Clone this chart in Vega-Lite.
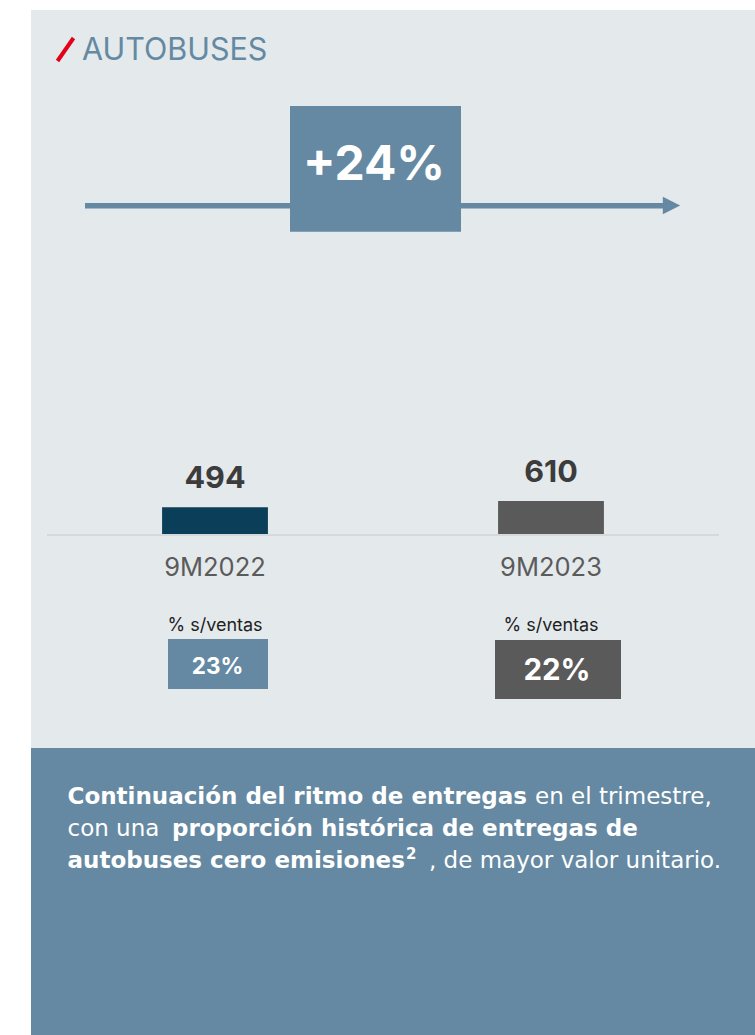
{
  "$schema": "https://vega.github.io/schema/vega-lite/v6.json",
  "width": 755,
  "height": 1035,
  "autosize": {"type": "fit", "contains": "padding"},
  "padding": 0,
  "background": "#ffffff",
  "config": {"view": {"stroke": null}, "text": {"font": "Inter"}},
  "datasets": {
    "periods": [
      {"period": "9M2022", "value": 494, "pct": "23%"},
      {"period": "9M2023", "value": 610, "pct": "22%"}
    ]
  },
  "layer": [
    {
      "data": {"values": [{}]},
      "layer": [
        {
          "mark": {"type": "rect", "color": "#e4e9ec"},
          "encoding": {
            "x": {"datum": 31, "type": "quantitative", "axis": null, "scale": {"domain": [0, 755], "nice": false, "zero": false}},
            "x2": {"datum": 755},
            "y": {"datum": 10, "type": "quantitative", "axis": null, "scale": {"domain": [0, 1035], "reverse": true, "nice": false, "zero": false}},
            "y2": {"datum": 748}
          }
        },
        {
          "mark": {"type": "rect", "color": "#6589a2"},
          "encoding": {"x": {"datum": 31}, "x2": {"datum": 755}, "y": {"datum": 748}, "y2": {"datum": 1035}}
        },
        {
          "mark": {"type": "rule", "color": "#e2001a", "strokeWidth": 4},
          "encoding": {"x": {"datum": 57.5}, "x2": {"datum": 73.5}, "y": {"datum": 61}, "y2": {"datum": 38}}
        },
        {
          "mark": {"type": "text", "text": "AUTOBUSES", "align": "left", "baseline": "alphabetic", "fontSize": 30.5, "color": "#6589a2", "fontWeight": 400},
          "encoding": {"x": {"datum": 82}, "y": {"datum": 60}}
        },
        {
          "mark": {"type": "rule", "color": "#6589a2", "strokeWidth": 5.5},
          "encoding": {"x": {"datum": 85}, "x2": {"datum": 666}, "y": {"datum": 205.8}}
        },
        {
          "mark": {"type": "point", "shape": "M-1,-1L1,0L-1,1Z", "filled": true, "color": "#6589a2", "size": 300, "opacity": 1},
          "encoding": {"x": {"datum": 671.5}, "y": {"datum": 205.5}}
        },
        {
          "mark": {"type": "rect", "color": "#6589a2"},
          "encoding": {"x": {"datum": 290}, "x2": {"datum": 461}, "y": {"datum": 106}, "y2": {"datum": 231.7}}
        },
        {
          "mark": {"type": "text", "text": "+24%", "align": "center", "baseline": "alphabetic", "fontSize": 48, "fontWeight": "bold", "color": "#ffffff"},
          "encoding": {"x": {"datum": 374}, "y": {"datum": 180}}
        },
        {
          "mark": {"type": "rule", "color": "#d6d9dc", "strokeWidth": 2},
          "encoding": {"x": {"datum": 47}, "x2": {"datum": 719}, "y": {"datum": 535}}
        },
        {
          "mark": {"type": "text", "text": "Continuación del ritmo de entregas", "align": "left", "baseline": "alphabetic", "font": "DejaVu Sans", "fontSize": 23, "fontWeight": "bold", "color": "#ffffff"},
          "encoding": {"x": {"datum": 67.5}, "y": {"datum": 804}}
        },
        {
          "mark": {"type": "text", "text": "en el trimestre,", "align": "left", "baseline": "alphabetic", "font": "DejaVu Sans", "fontSize": 23, "fontWeight": 400, "color": "#ffffff"},
          "encoding": {"x": {"datum": 535}, "y": {"datum": 804}}
        },
        {
          "mark": {"type": "text", "text": "con una", "align": "left", "baseline": "alphabetic", "font": "DejaVu Sans", "fontSize": 23, "fontWeight": 400, "color": "#ffffff"},
          "encoding": {"x": {"datum": 67.5}, "y": {"datum": 836}}
        },
        {
          "mark": {"type": "text", "text": "proporción histórica de entregas de", "align": "left", "baseline": "alphabetic", "font": "DejaVu Sans", "fontSize": 23, "fontWeight": "bold", "color": "#ffffff"},
          "encoding": {"x": {"datum": 172}, "y": {"datum": 836}}
        },
        {
          "mark": {"type": "text", "text": "autobuses cero emisiones", "align": "left", "baseline": "alphabetic", "font": "DejaVu Sans", "fontSize": 23, "fontWeight": "bold", "color": "#ffffff"},
          "encoding": {"x": {"datum": 67.5}, "y": {"datum": 867.5}}
        },
        {
          "mark": {"type": "text", "text": "2", "align": "left", "baseline": "alphabetic", "font": "DejaVu Sans", "fontSize": 15, "fontWeight": "bold", "color": "#ffffff"},
          "encoding": {"x": {"datum": 406}, "y": {"datum": 859}}
        },
        {
          "mark": {"type": "text", "text": ", de mayor valor unitario.", "align": "left", "baseline": "alphabetic", "font": "DejaVu Sans", "fontSize": 23, "fontWeight": 400, "color": "#ffffff"},
          "encoding": {"x": {"datum": 429}, "y": {"datum": 867.5}}
        }
      ]
    },
    {
      "data": {"name": "periods"},
      "encoding": {
        "x": {"field": "period", "type": "nominal", "axis": null,
          "scale": {"type": "band", "domain": ["9M2022", "9M2023"], "range": [47, 719], "paddingInner": 0.685, "paddingOuter": 0.3425}}
      },
      "layer": [
        {
          "mark": {"type": "bar"},
          "encoding": {
            "y": {"field": "value", "type": "quantitative", "axis": null, "scale": {"domain": [0, 1000], "range": [534, 480], "nice": false}},
            "y2": {"datum": 0},
            "color": {"field": "period", "type": "nominal", "legend": null, "scale": {"range": ["#0b3f59", "#5a5a5a"]}}
          }
        },
        {
          "mark": {"type": "text", "baseline": "alphabetic", "dy": -19.5, "fontSize": 30.5, "fontWeight": "bold", "color": "#3c3c3c"},
          "encoding": {"y": {"field": "value", "type": "quantitative"}, "text": {"field": "value", "type": "quantitative"}}
        },
        {
          "mark": {"type": "text", "baseline": "alphabetic", "dy": 42, "fontSize": 25.5, "fontWeight": 400, "color": "#5b5b5b"},
          "encoding": {"y": {"datum": 0}, "text": {"field": "period"}}
        },
        {
          "mark": {"type": "text", "baseline": "alphabetic", "dy": 97, "fontSize": 18, "fontWeight": 400, "color": "#1e1e1e", "text": "% s/ventas"},
          "encoding": {"y": {"datum": 0}}
        }
      ]
    },
    {
      "data": {"name": "periods"},
      "encoding": {
        "x": {"field": "period", "type": "nominal", "axis": null,
          "scale": {"type": "band", "domain": ["9M2022", "9M2023"], "range": [52, 724], "paddingInner": 0.685, "paddingOuter": 0.3425}}
      },
      "layer": [
        {
          "transform": [{"filter": "datum.period === '9M2022'"}],
          "mark": {"type": "bar", "width": 100, "color": "#6589a2", "xOffset": -2},
          "encoding": {
            "y": {"datum": 639, "type": "quantitative", "axis": null, "scale": {"domain": [0, 1035], "reverse": true, "nice": false, "zero": false}},
            "y2": {"datum": 689}
          }
        },
        {
          "transform": [{"filter": "datum.period === '9M2023'"}],
          "mark": {"type": "bar", "width": 126, "color": "#5a5a5a", "xOffset": 2},
          "encoding": {"y": {"datum": 640}, "y2": {"datum": 699}}
        },
        {
          "transform": [{"filter": "datum.period === '9M2022'"}],
          "mark": {"type": "text", "baseline": "alphabetic", "fontSize": 22.5, "fontWeight": "bold", "color": "#ffffff", "xOffset": -2.5},
          "encoding": {"y": {"datum": 673.5}, "text": {"field": "pct"}}
        },
        {
          "transform": [{"filter": "datum.period === '9M2023'"}],
          "mark": {"type": "text", "baseline": "alphabetic", "fontSize": 29.5, "fontWeight": "bold", "color": "#ffffff", "xOffset": 1},
          "encoding": {"y": {"datum": 680}, "text": {"field": "pct"}}
        }
      ]
    }
  ],
  "resolve": {"scale": {"x": "independent", "y": "independent", "color": "independent"}}
}
